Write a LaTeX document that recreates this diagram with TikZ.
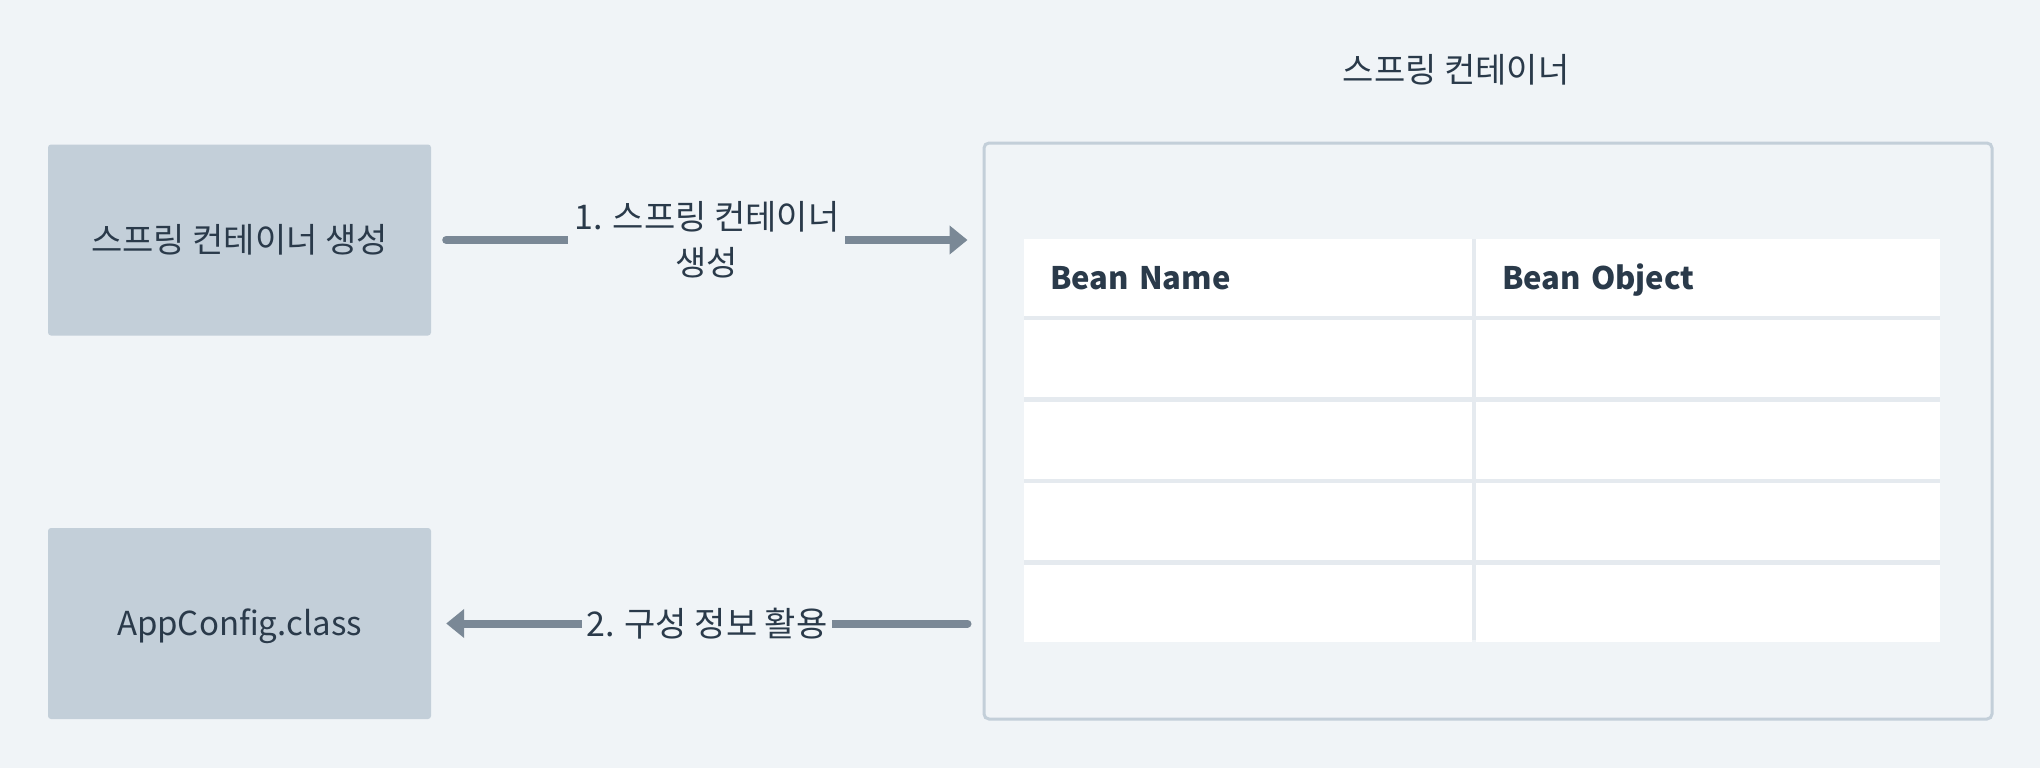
\documentclass[tikz,border=0pt]{standalone}
\usepackage{fontspec}
\setmainfont{Noto Sans CJK KR}
\usepackage{tikz}
\usetikzlibrary{positioning,arrows.meta}
\definecolor{bgcol}{HTML}{F0F4F7}
\definecolor{boxcol}{HTML}{C3CFD9}
\definecolor{linecol}{HTML}{7A8896}
\definecolor{txtcol}{HTML}{2A3A4A}
\definecolor{gridcol}{HTML}{E5EAEF}
\tikzset{
  stepbox/.style={fill=boxcol, rounded corners=3pt, minimum width=383pt, minimum height=191pt, text=txtcol, font=\fontsize{34}{40}\selectfont},
  cell/.style={fill=white, minimum height=77pt, inner xsep=26pt, inner ysep=0pt, align=left, text height=23pt, text depth=0pt, text=txtcol, font=\fontsize{31}{36}\selectfont\bfseries},
  flow/.style={line width=8pt, draw=linecol, line cap=round, shorten >=15pt, shorten <=15pt},
  lbl/.style={fill=bgcol, text=txtcol, font=\fontsize{34}{46}\selectfont, inner xsep=6pt, align=center}
}
\begin{document}
\begin{tikzpicture}[x=1pt,y=-1pt]
\useasboundingbox[fill=bgcol] (0,0) rectangle (2040,768);
\node[stepbox] (create) at (239.5,240) {스프링 컨테이너 생성};
\node[stepbox, font=\fontsize{33}{40}\selectfont, text height=24pt, text depth=0pt] (config) at (239.5,623.5) {AppConfig.class};
\node[draw=boxcol, line width=3pt, rounded corners=5pt, minimum width=1008pt, minimum height=576pt] (ctr) at (1488,431) {};
\node[text=txtcol, font=\fontsize{34}{40}\selectfont] (ctrtitle) at (1456,70) {스프링 컨테이너};
\node[fill=gridcol, minimum width=916pt, minimum height=401pt, inner sep=0pt] (tbl) at (1482,439.5) {};
\node[cell, text width=396pt, anchor=north west] (name0) at (tbl.north west) {Bean Name};
\node[cell, text width=412pt, anchor=north east] (obj0) at (tbl.north east) {Bean Object};
\foreach \r [count=\p from 0] in {1,...,4} {
  \node[cell, text width=396pt, below=4pt of name\p] (name\r) {};
  \node[cell, text width=412pt, below=4pt of obj\p] (obj\r) {};
}
\draw[flow, -{Triangle[length=18pt,width=28pt]}] (create.east) -- node[lbl] {1. 스프링 컨테이너\\생성} (create.east -| ctr.west);
\draw[flow, {Triangle[length=18pt,width=28pt]}-] (config.east) -- node[lbl, inner xsep=4pt] {2. 구성 정보 활용} (config.east -| ctr.west);
\end{tikzpicture}
\end{document}
